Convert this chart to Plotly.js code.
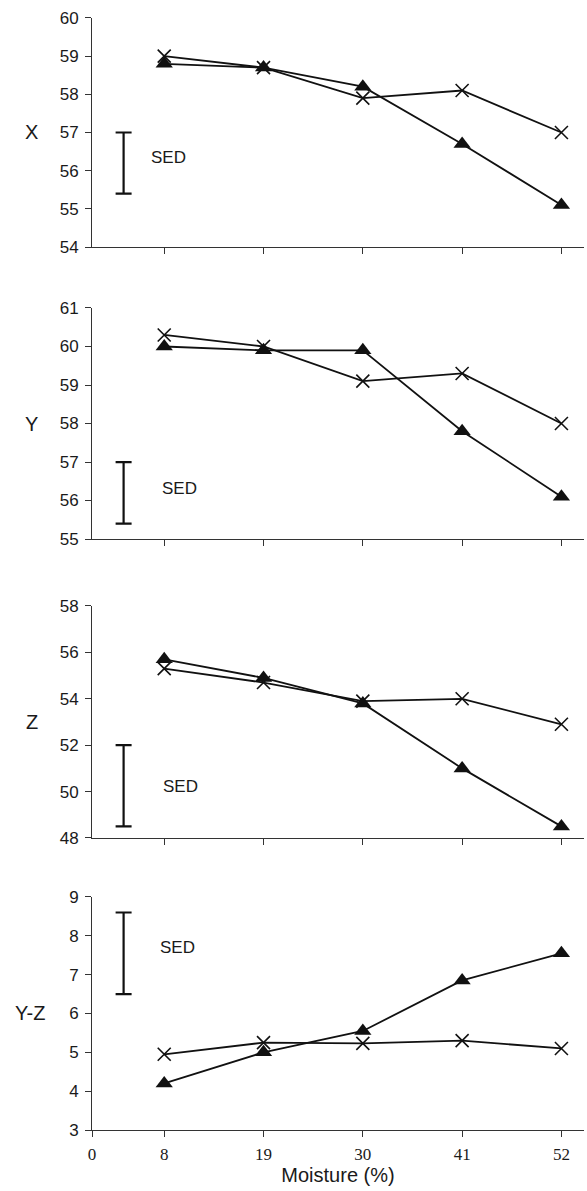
<!DOCTYPE html>
<html>
<head>
<meta charset="utf-8">
<script src="https://cdn.plot.ly/plotly-3.0.1.min.js"></script>
<style>html,body{margin:0;padding:0;background:#fff;}#chart{width:587px;height:1191px;}</style>
</head>
<body>
<div id="chart"></div>
<script>
// ---- data ----
var moisture = [8, 19, 30, 41, 52];
var xTickVals = [0, 8, 19, 30, 41, 52];
var xTickText = ['0', '8', '19', '30', '41', '52'];

var panelTitles = ['X', 'Y', 'Z', 'Y-Z'];

var xTri   = [58.8, 58.7, 58.2, 56.7, 55.1];
var xCross = [59.0, 58.7, 57.9, 58.1, 57.0];

var yTri   = [60.0, 59.9, 59.9, 57.8, 56.1];
var yCross = [60.3, 60.0, 59.1, 59.3, 58.0];

var zTri   = [55.7, 54.9, 53.8, 51.0, 48.5];
var zCross = [55.3, 54.7, 53.9, 54.0, 52.9];

var yzTri   = [4.2, 5.0, 5.55, 6.85, 7.55];
var yzCross = [4.95, 5.25, 5.23, 5.3, 5.1];

var sedX = 3.5;
var sedLow  = [55.4, 55.4, 48.5, 6.5];
var sedHigh = [57.0, 57.0, 52.0, 8.6];
var sedLabelX = [8.5, 9.7, 9.8, 9.5];
var sedLabelY = [56.35, 56.3, 50.2, 7.7];

var yRanges = [[54, 60], [55, 61], [48, 58], [3, 9]];
var yDtick  = [1, 1, 2, 1];

// ---- layout geometry ----
var domains = [[0.7926, 0.9849], [0.5474, 0.7414], [0.2964, 0.4912], [0.0512, 0.2469]];
var triSeries = [xTri, yTri, zTri, yzTri];
var crossSeries = [xCross, yCross, zCross, yzCross];
var SANS = 'Liberation Sans, Arial, sans-serif';

var traces = [];
var layout = {
  width: 587, height: 1191,
  margin: {l: 92, r: 3, t: 0, b: 0},
  paper_bgcolor: '#ffffff', plot_bgcolor: '#ffffff',
  showlegend: false,
  font: {family: SANS, color: '#1a1a1a', size: 17},
  annotations: []
};

for (var i = 0; i < 4; i++) {
  var sfx = i === 0 ? '' : String(i + 1);
  var xa = 'x' + sfx, ya = 'y' + sfx;
  traces.push({
    x: moisture, y: crossSeries[i], xaxis: xa, yaxis: ya,
    type: 'scatter', mode: 'lines+markers',
    line: {color: '#111', width: 1.8},
    marker: {symbol: 'x-thin-open', size: 13, color: '#111', line: {color: '#111', width: 1.6}},
    cliponaxis: false
  });
  traces.push({
    x: moisture, y: triSeries[i], xaxis: xa, yaxis: ya,
    type: 'scatter', mode: 'lines+markers',
    line: {color: '#111', width: 1.8},
    marker: {symbol: 'triangle-up', size: 15, color: '#111'},
    cliponaxis: false
  });
  // SED bar
  traces.push({
    x: [sedX], y: [(sedLow[i] + sedHigh[i]) / 2], xaxis: xa, yaxis: ya,
    type: 'scatter', mode: 'markers',
    marker: {size: 1, color: 'rgba(0,0,0,0)'},
    error_y: {type: 'data', symmetric: true, array: [(sedHigh[i] - sedLow[i]) / 2],
              color: '#111', thickness: 2.2, width: 8},
    cliponaxis: false, hoverinfo: 'skip'
  });
  layout.annotations.push({
    xref: xa, yref: ya, x: sedLabelX[i], y: sedLabelY[i], text: 'SED', showarrow: false,
    font: {family: SANS, size: 17, color: '#1a1a1a'},
    xanchor: 'center', yanchor: 'middle'
  });
  // horizontal panel title (y-axis label)
  layout.annotations.push({
    xref: 'paper', yref: 'paper',
    x: (i === 3 ? -0.126 : -0.122), y: (domains[i][0] + domains[i][1]) / 2,
    text: panelTitles[i], showarrow: false,
    font: {family: SANS, size: 20, color: '#1a1a1a'},
    xanchor: 'center', yanchor: 'middle'
  });

  var last = (i === 3);
  layout['xaxis' + sfx] = {
    domain: [0, 1], anchor: ya, range: [0, 54.5],
    showgrid: false, zeroline: false,
    showline: true, linecolor: '#333', linewidth: 1,
    ticks: 'outside', ticklen: 6, tickwidth: 1, tickcolor: '#333',
    tickmode: 'array',
    tickvals: last ? xTickVals : moisture,
    ticktext: last ? xTickText : moisture.map(String),
    showticklabels: last,
    tickfont: {family: 'Liberation Serif, Times New Roman, serif', size: 17, color: '#1a1a1a'},
    ticklabelstandoff: 3,
    automargin: false,
    title: last ? {text: 'Moisture (%)', font: {family: SANS, size: 20, color: '#1a1a1a'}, standoff: 0} : {text: ''}
  };
  layout['yaxis' + sfx] = {
    domain: domains[i], anchor: xa, range: yRanges[i],
    dtick: yDtick[i], tick0: 0,
    showgrid: false, zeroline: false,
    showline: true, linecolor: '#333', linewidth: 1,
    ticks: 'outside', ticklen: 6, tickwidth: 1, tickcolor: '#333',
    tickfont: {family: SANS, size: 17, color: '#1a1a1a'},
    ticklabelstandoff: 3,
    automargin: false
  };
}

Plotly.newPlot('chart', traces, layout, {staticPlot: true, displayModeBar: false});
</script>
</body>
</html>
